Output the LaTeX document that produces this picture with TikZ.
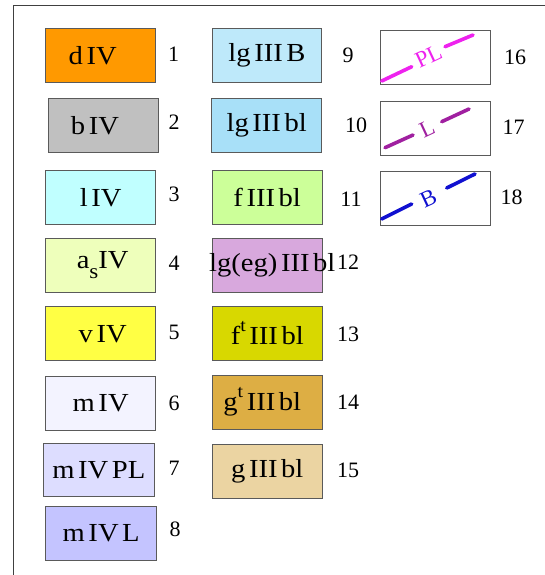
\documentclass[tikz,border=0pt]{standalone}
\usepackage{fontspec}
\setmainfont{Liberation Serif}
\newfontfamily\boxfont[FakeStretch=1.1,WordSpace=0.5]{Liberation Serif}
\newcommand{\subs}[1]{\raisebox{-0.4em}{\fontsize{21}{21}\selectfont #1}}
\newcommand{\sups}[1]{\raisebox{0.5em}{\fontsize{18}{18}\selectfont #1}}
\newcommand{\shifted}[2]{\makebox[0pt]{\hspace{#1}#2}}
\definecolor{c1}{HTML}{FF9900}
\definecolor{c2}{HTML}{C0C0C0}
\definecolor{c3}{HTML}{C0FFFF}
\definecolor{c4}{HTML}{EEFFBB}
\definecolor{c5}{HTML}{FFFF44}
\definecolor{c6}{HTML}{F3F3FF}
\definecolor{c7}{HTML}{DDDDFF}
\definecolor{c8}{HTML}{C4C4FF}
\definecolor{c9}{HTML}{BEE9FA}
\definecolor{c10}{HTML}{A8E0F8}
\definecolor{c11}{HTML}{CCFF99}
\definecolor{c12}{HTML}{D8A8DD}
\definecolor{c13}{HTML}{D8D800}
\definecolor{c14}{HTML}{DDAE44}
\definecolor{c15}{HTML}{EBD4A2}
\definecolor{borderc}{HTML}{5A5A5A}
\definecolor{framec}{HTML}{404040}
\definecolor{plc}{HTML}{EE22EE}
\definecolor{lc}{HTML}{A020A0}
\definecolor{bc}{HTML}{1010D0}
\begin{document}
\begin{tikzpicture}[x=1pt,y=-1pt,
  legbox/.style={draw=borderc, line width=0.9pt, minimum width=110pt, minimum height=54pt,
    inner sep=0pt, font=\boxfont\fontsize{26}{26}\selectfont},
  num/.style={inner sep=0pt, font=\fontsize{22}{22}\selectfont},
  symline/.style={line width=3.6pt, line cap=round},
  symlab/.style={inner sep=0pt, rotate=25, font=\fontsize{23}{23}\selectfont}]
\useasboundingbox (0,0) rectangle (545,575);
\fill[white] (0,0) rectangle (545,575);
\draw[framec, line width=1.2pt] (13.3,575) -- (13.3,5.7) -- (545,5.7);
% column 1
\node[legbox, fill=c1] (b1) at (100.7,55.3) {\shifted{-16pt}{d IV}};
\node[legbox, fill=c2] (b2) at (103,125.3) {\shifted{-16pt}{b IV}};
\node[legbox, fill=c3] (b3) at (100.7,197.5) {l IV};
\node[legbox, fill=c4] (b4) at (100.7,265.3) {\shifted{4pt}{a\subs{s}IV}};
\node[legbox, fill=c5] (b5) at (100.7,333.7) {\shifted{4pt}{v IV}};
\node[legbox, fill=c6] (b6) at (100.7,403.3) {m IV};
\node[legbox, fill=c7, minimum width=111pt, minimum height=53.4pt] (b7) at (98.8,470) {m IV PL};
\node[legbox, fill=c8, minimum width=111pt] (b8) at (101.2,533) {m IV L};
% column 2
\node[legbox, fill=c9, minimum width=109.4pt] (b9) at (267,55.3) {lg III B};
\node[legbox, fill=c10] (b10) at (266.7,125.5) {lg III bl};
\node[legbox, fill=c11] (b11) at (267.2,197.5) {f III bl};
\node[legbox, fill=c12] (b12) at (267.3,265.3) {\shifted{10pt}{lg(eg) III bl}};
\node[legbox, fill=c13, minimum height=53.3pt] (b13) at (267.3,333.4) {f\sups{t} III bl};
\node[legbox, fill=c14] (b14) at (267.3,402) {\shifted{-10pt}{g\sups{t} III bl}};
\node[legbox, fill=c15] (b15) at (267.3,471.3) {g III bl};
% column 3
\node[legbox, fill=white] (b16) at (435.3,57) {};
\node[legbox, fill=white] (b17) at (435.3,128.7) {};
\node[legbox, fill=white, minimum height=53.3pt] (b18) at (435.3,198.3) {};
% numbers
\node[num] (n1) at (173.5,54) {1};
\node[num] (n2) at (174,122) {2};
\node[num] (n3) at (174,194) {3};
\node[num] (n4) at (174,263.5) {4};
\node[num] (n5) at (174,332) {5};
\node[num] (n6) at (174,403) {6};
\node[num] (n7) at (174,468) {7};
\node[num] (n8) at (175,529.5) {8};
\node[num] (n9) at (348,55.5) {9};
\node[num] (n10) at (356,125) {10};
\node[num] (n11) at (351,199) {11};
\node[num] (n12) at (348,262.5) {12};
\node[num] (n13) at (348,334.5) {13};
\node[num] (n14) at (348,402.5) {14};
\node[num] (n15) at (348,470.5) {15};
\node[num] (n16) at (515,57.5) {16};
\node[num] (n17) at (513.5,127) {17};
\node[num] (n18) at (511.5,197) {18};
% line symbols
\coordinate (p1a) at (381.7,81); \coordinate (p1b) at (411.7,66.7);
\coordinate (p2a) at (445,46.7); \coordinate (p2b) at (473,35);
\draw[symline, plc] (p1a) -- (p1b);
\draw[symline, plc] (p2a) -- (p2b);
\node[symlab, text=plc] (lpl) at (428.5,56.5) {PL};
\coordinate (l1a) at (385,147.7); \coordinate (l1b) at (413,135);
\coordinate (l2a) at (441.7,121.7); \coordinate (l2b) at (469,109);
\draw[symline, lc] (l1a) -- (l1b);
\draw[symline, lc] (l2a) -- (l2b);
\node[symlab, text=lc] (ll) at (427,128.5) {L};
\coordinate (q1a) at (381.7,219); \coordinate (q1b) at (411.7,204);
\coordinate (q2a) at (446.7,188); \coordinate (q2b) at (475,174);
\draw[symline, bc] (q1a) -- (q1b);
\draw[symline, bc] (q2a) -- (q2b);
\node[symlab, text=bc] (lb) at (428.5,198) {B};
\end{tikzpicture}
\end{document}
